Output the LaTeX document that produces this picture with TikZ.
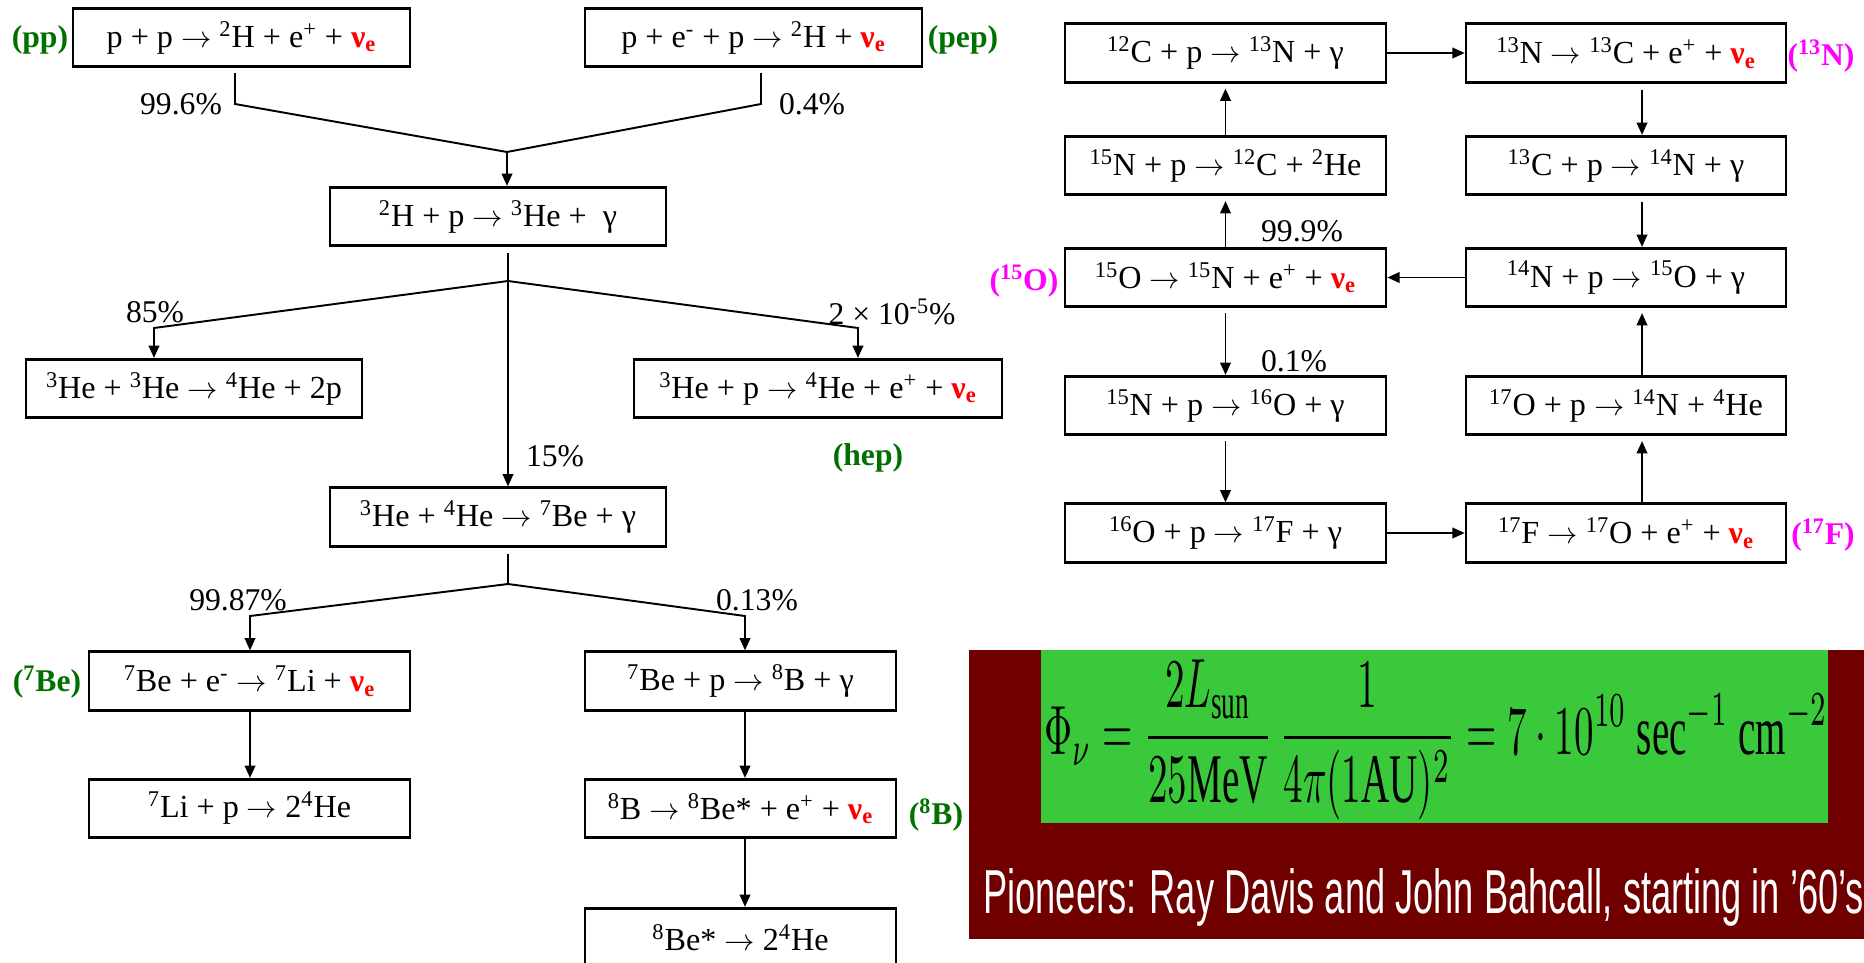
\documentclass[tikz,border=0pt]{standalone}
\usepackage{fontspec}
\setmainfont{Liberation Serif}
\newfontfamily\panelsans{Liberation Sans}
\usepackage{graphicx}
\usetikzlibrary{arrows.meta,calc}

\definecolor{chaingreen}{RGB}{0,112,0}
\definecolor{cnomagenta}{RGB}{255,0,255}
\definecolor{panelred}{RGB}{112,0,0}
\definecolor{panelgreen}{RGB}{58,201,58}

\newcommand{\iso}[2]{\textsuperscript{#1}#2}
\newcommand{\nue}{{\color{red}\bfseries ν\textsubscript{e}}}
\newcommand{\arr}{$\rightarrow$}

\begin{document}
\begin{tikzpicture}[
  x=0.02cm,
  y=-0.02cm,
  rxn/.style={draw, line width=1.5pt, minimum height=1.17cm, inner sep=0pt, font=\fontsize{18.3}{21}\selectfont},
  flow/.style={-{Triangle[length=7pt,width=6pt]}, line width=1.1pt},
  link/.style={line width=1.1pt},
  pct/.style={font=\fontsize{18}{21}\selectfont},
  chain/.style={font=\fontsize{18}{21}\selectfont\bfseries, text=chaingreen},
  cno/.style={font=\fontsize{18}{21}\selectfont\bfseries, text=cnomagenta}
]
  \useasboundingbox (0,0) rectangle (1864,963);

  % flux panel
  \fill[panelred] (969,650) rectangle (1864,939);
  \fill[panelgreen] (1041,650) rectangle (1828,823);
  \node[inner sep=0pt] (flux) at (1436,740) {\resizebox*{15.68cm}{3.2cm}{$\displaystyle \Phi_{\nu} = \frac{2L_{\mathrm{sun}}}{25\mathrm{MeV}}\,\frac{1}{4\pi(1\mathrm{AU})^{2}} = 7\cdot 10^{10}\ \mathrm{sec}^{-1}\ \mathrm{cm}^{-2}$}};
  \node[anchor=base west, inner sep=0pt, text=white] (pioneers) at (983,913) {\resizebox{17.62cm}{0.9cm}{\panelsans Pioneers: Ray Davis and John Bahcall, starting in ’60’s}};

  % pp chain
  \node[rxn, minimum width=6.74cm] (pp) at (241.5,37.5) {p + p \arr{} \iso{2}{H} + e\textsuperscript{+} + \nue};
  \node[rxn, minimum width=6.74cm] (pep) at (753.5,37.5) {p + e\textsuperscript{-} + p \arr{} \iso{2}{H} + \nue};
  \node[rxn, minimum width=6.72cm] (hh) at (498,216.5) {\iso{2}{H} + p \arr{} \iso{3}{He} +\ \ γ};
  \node[rxn, minimum width=6.72cm] (hethree) at (194,388.5) {\iso{3}{He} + \iso{3}{He} \arr{} \iso{4}{He} + 2p};
  \node[rxn, minimum width=7.36cm] (hep) at (818,388.5) {\iso{3}{He} + p \arr{} \iso{4}{He} + e\textsuperscript{+} + \nue};
  \node[rxn, minimum width=6.72cm] (hefour) at (498,517) {\iso{3}{He} + \iso{4}{He} \arr{} \iso{7}{Be} + γ};
  \node[rxn, minimum width=6.42cm] (beecap) at (249.5,681) {\iso{7}{Be} + e\textsuperscript{-} \arr{} \iso{7}{Li} + \nue};
  \node[rxn, minimum width=6.22cm] (bepcap) at (740.5,681) {\iso{7}{Be} + p \arr{} \iso{8}{B} + γ};
  \node[rxn, minimum width=6.42cm] (lip) at (249.5,808.5) {\iso{7}{Li} + p \arr{} 2\iso{4}{He}};
  \node[rxn, minimum width=6.22cm] (bdec) at (740.5,808.5) {\iso{8}{B} \arr{} \iso{8}{Be}* + e\textsuperscript{+} + \nue};
  \node[rxn, minimum width=6.22cm] (bestar) at (740.5,937.5) {\iso{8}{Be}* \arr{} 2\iso{4}{He}};

  \node[chain] (lpp) at (40,40) {(pp)};
  \node[chain] (lpep) at (963,40) {(pep)};
  \node[chain] (lhep) at (868,458) {(hep)};
  \node[chain] (lbe) at (47,682) {(\iso{7}{Be})};
  \node[chain] (lb) at (936,815) {(\iso{8}{B})};

  \coordinate (k1l) at (235,104);
  \coordinate (k1r) at (761,104);
  \coordinate (j1) at (507,152);
  \draw[link] (pp.south -| k1l) ++(0,5) -- (k1l) -- (j1);
  \draw[link] (pep.south -| k1r) ++(0,5) -- (k1r) -- (j1);
  \draw[flow] (j1) -- (hh.north -| j1);
  \node[pct] (p996) at (181,104) {99.6\%};
  \node[pct] (p04) at (812,104) {0.4\%};

  \coordinate (j2) at (508,281);
  \coordinate (k2l) at (154,328);
  \coordinate (k2r) at (858,328);
  \draw[flow] (hh.south -| j2) ++(0,6) -- (hefour.north -| j2);
  \draw[flow] (j2) -- (k2l) -- (hethree.north -| k2l);
  \draw[flow] (j2) -- (k2r) -- (hep.north -| k2r);
  \node[pct] (p85) at (155,312) {85\%};
  \node[pct] (p2e5) at (892,312) {2 × 10\textsuperscript{-5}\%};
  \node[pct] (p15) at (555,456) {15\%};

  \coordinate (j3) at (508,584);
  \coordinate (k3l) at (250,616);
  \coordinate (k3r) at (745,616);
  \draw[link] (hefour.south -| j3) ++(0,6) -- (j3);
  \draw[flow] (j3) -- (k3l) -- (beecap.north -| k3l);
  \draw[flow] (j3) -- (k3r) -- (bepcap.north -| k3r);
  \draw[flow] (beecap.south -| k3l) -- (lip.north -| k3l);
  \draw[flow] (bepcap.south -| k3r) -- (bdec.north -| k3r);
  \draw[flow] (bdec.south -| k3r) -- (bestar.north -| k3r);
  \node[pct] (p9987) at (238,600) {99.87\%};
  \node[pct] (p013) at (757,600) {0.13\%};

  % CNO cycle
  \node[rxn, minimum width=6.42cm] (cpn) at (1225.5,53) {\iso{12}{C} + p \arr{} \iso{13}{N} + γ};
  \node[rxn, minimum width=6.4cm] (ndec) at (1626,53) {\iso{13}{N} \arr{} \iso{13}{C} + e\textsuperscript{+} + \nue};
  \node[rxn, minimum width=6.42cm] (nalpha) at (1225.5,165.5) {\iso{15}{N} + p \arr{} \iso{12}{C} + \iso{2}{He}};
  \node[rxn, minimum width=6.4cm] (cpp) at (1626,165.5) {\iso{13}{C} + p \arr{} \iso{14}{N} + γ};
  \node[rxn, minimum width=6.42cm] (odec) at (1225.5,277.5) {\iso{15}{O} \arr{} \iso{15}{N} + e\textsuperscript{+} + \nue};
  \node[rxn, minimum width=6.4cm] (npo) at (1626,277.5) {\iso{14}{N} + p \arr{} \iso{15}{O} + γ};
  \node[rxn, minimum width=6.42cm] (npg) at (1225.5,405.5) {\iso{15}{N} + p \arr{} \iso{16}{O} + γ};
  \node[rxn, minimum width=6.4cm] (oalpha) at (1626,405.5) {\iso{17}{O} + p \arr{} \iso{14}{N} + \iso{4}{He}};
  \node[rxn, minimum width=6.42cm] (opf) at (1225.5,533) {\iso{16}{O} + p \arr{} \iso{17}{F} + γ};
  \node[rxn, minimum width=6.4cm] (fdec) at (1626,533) {\iso{17}{F} \arr{} \iso{17}{O} + e\textsuperscript{+} + \nue};

  \node[cno] (ln) at (1821,56) {(\iso{13}{N})};
  \node[cno] (lo) at (1024,281) {(\iso{15}{O})};
  \node[cno] (lf) at (1823,535) {(\iso{17}{F})};

  \coordinate (bx) at (1642,0);
  \draw[flow] (cpn.east) -- (ndec.west);
  \draw[flow] (ndec.south -| bx) ++(0,6) -- (cpp.north -| bx);
  \draw[flow] (cpp.south -| bx) ++(0,6) -- (npo.north -| bx);
  \draw[flow] (npo.west) -- (odec.east);
  \draw[flow, shorten >=0.1cm] (odec.north) -- (nalpha.south);
  \draw[flow, shorten >=0.1cm] (nalpha.north) -- (cpn.south);
  \draw[flow, shorten <=0.1cm] (odec.south) -- (npg.north);
  \draw[flow, shorten <=0.1cm] (npg.south) -- (opf.north);
  \draw[flow] (opf.east) -- (fdec.west);
  \draw[flow, shorten >=0.1cm] (fdec.north -| bx) -- (oalpha.south -| bx);
  \draw[flow, shorten >=0.1cm] (oalpha.north -| bx) -- (npo.south -| bx);
  \node[pct] (p999) at (1302,231) {99.9\%};
  \node[pct] (p01) at (1294,361) {0.1\%};
\end{tikzpicture}
\end{document}
